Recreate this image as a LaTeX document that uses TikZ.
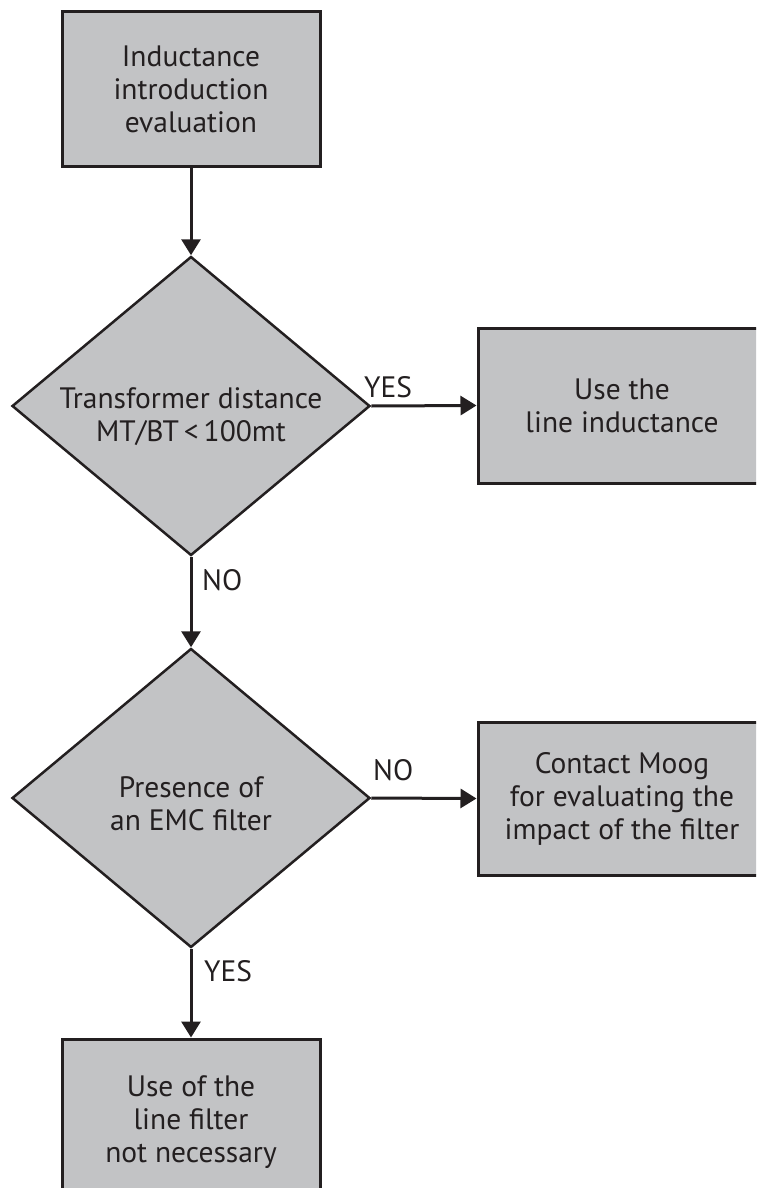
\documentclass[tikz,border=0pt]{standalone}
\usepackage{fontspec}
\setmainfont{PT Sans}
\usetikzlibrary{shapes.geometric,arrows.meta}
\definecolor{boxfill}{HTML}{C2C3C5}
\definecolor{ink}{HTML}{231F20}
\tikzset{
  every node/.style={font=\fontsize{29.5}{33}\selectfont, text=ink},
  procbox/.style={draw=ink, fill=boxfill, line width=3pt, rectangle, inner sep=0pt, align=center},
  decide/.style={draw=ink, fill=boxfill, line width=2.5pt, diamond, inner sep=0pt, aspect=1.197, minimum width=358pt, minimum height=299pt},
  dtext/.style={align=center, inner sep=0pt},
  conn/.style={draw=ink, line width=3pt, -{Triangle[length=16pt,width=19pt]}},
  lbl/.style={anchor=base west, inner sep=0pt}
}
\begin{document}
\begin{tikzpicture}[x=1pt,y=-1pt]
\useasboundingbox (0,0) rectangle (756,1188);
\clip (0,0) rectangle (756,1188);
\node[procbox, minimum width=258pt, minimum height=154pt] (b1) at (191,89) {Inductance\\introduction\\evaluation};
\node[decide] (d1) at (191,406) {};
\node[dtext] (d1t) at ([yshift=-11pt]d1.center) {Transformer distance\\MT/BT\,<\,100mt};
\node[procbox, minimum width=288pt, minimum height=155pt] (b2) at (622,405.5) {Use the\\line inductance};
\node[decide] (d2) at (191,798) {};
\node[dtext] (d2t) at ([yshift=-6pt]d2.center) {Presence of\\an EMC filter};
\node[procbox, minimum width=288pt, minimum height=153pt] (b3) at (622,798.5) {Contact Moog\\for evaluating the\\impact of the filter};
\node[procbox, minimum width=258pt, minimum height=166pt] (b4) at (191,1122) {Use of the\\line filter\\not necessary};
\draw[conn] (b1.south) -- (d1.north);
\draw[conn] (d1.east) -- (b2.west);
\draw[conn] (d1.south) -- (d2.north);
\draw[conn] (d2.east) -- (b3.west);
\draw[conn] (d2.south) -- (b4.north);
\node[lbl] (l1) at (364,397) {YES};
\node[lbl] (l2) at (202,590) {NO};
\node[lbl] (l3) at (373,780) {NO};
\node[lbl] (l4) at (204,981) {YES};
\end{tikzpicture}
\end{document}
